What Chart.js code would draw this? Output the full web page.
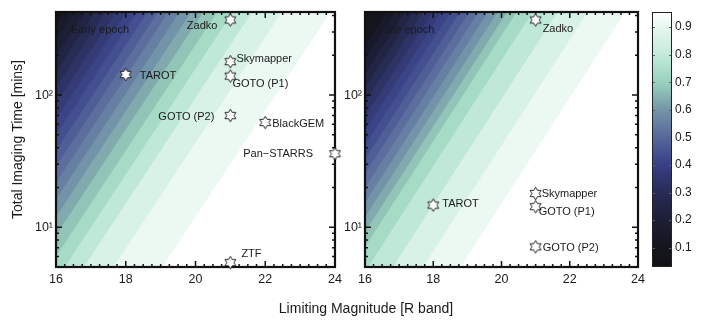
<!DOCTYPE html>
<html lang="en">
<head>
<meta charset="UTF-8">
<title>Imaging time vs limiting magnitude</title>
<script src="https://cdn.jsdelivr.net/npm/chart.js"></script>
<style>
  body { margin: 0; background: #fff; width: 714px; height: 326px; position: relative; overflow: hidden;
         font-family: "Liberation Sans", Arial, sans-serif; }
  canvas { position: absolute; top: 0; }
  #xTitle { position: absolute; left: 0; width: 732px; top: 300px; text-align: center; font-size: 14px; color: #1a1a1a; }
</style>
</head>
<body>
<canvas id="earlyChart" width="350" height="326" style="left:0"></canvas>
<canvas id="lateChart" width="312" height="326" style="left:338px"></canvas>
<canvas id="colorBar" width="69" height="326" style="left:645px"></canvas>
<div id="xTitle">Limiting Magnitude [R band]</div>
<script>
// contour levels and where each level line crosses the 5 min line (mag), lines rise 2.5 mag per decade
const levels = [0.05, 0.10, 0.15, 0.20, 0.25, 0.30, 0.35, 0.40, 0.45, 0.50,
                0.55, 0.60, 0.65, 0.70, 0.75, 0.80, 0.85, 0.90, 0.95];
const earlyLevelMag = [11.4, 11.7, 12.0, 12.3, 12.6, 12.9, 13.2, 13.5, 13.8, 14.1,
                       14.4, 14.72, 15.05, 15.4, 15.8, 16.25, 16.8, 17.65, 19.05];
const lateLevelMag = [11.8, 12.07, 12.34, 12.61, 12.88, 13.15, 13.42, 13.69, 13.96, 14.23,
                      14.5, 14.78, 15.06, 15.34, 15.62, 16.09, 16.82, 17.7, 18.8];
const baseTime = 5;
const magPerDecade = 2.5;

// telescopes
const earlyNames = ['Zadko', 'Skymapper', 'GOTO (P1)', 'TAROT', 'GOTO (P2)', 'BlackGEM', 'Pan\u2212STARRS', 'ZTF'];
const earlyMag = [21, 21, 21, 18, 21, 22, 24, 21];
const earlyTime = [370, 179, 139, 143, 70, 62, 36, 5.4];

const lateNames = ['Zadko', 'Skymapper', 'GOTO (P1)', 'TAROT', 'GOTO (P2)'];
const lateMag = [21, 21, 21, 18, 21];
const lateTime = [370, 18, 14.3, 14.7, 7.1];

// ticks
const xTicks = [16, 18, 20, 22, 24];
const yTicks = [10, 100];
const cbTicks = [0.1, 0.2, 0.3, 0.4, 0.5, 0.6, 0.7, 0.8, 0.9];

// colours: one per band (below first level ... above last level)
const bandColors = ['#15151d', '#18192a', '#1c1e36', '#212543', '#272c54', '#2d3364', '#343b76', '#3b4486',
                    '#444f8f', '#4f5e97', '#5b6e9d', '#677fa2', '#7393a8', '#82aaae', '#93c4b8', '#a6dcc6',
                    '#c0e8d8', '#d8f2e6', '#ecf8f2', '#ffffff'];
const cmapVals = [0.03, 0.1, 0.2, 0.3, 0.4, 0.5, 0.6, 0.7, 0.8, 0.9, 0.955];
const cmapColors = ['#111114', '#15151e', '#1c1e34', '#272b56', '#383f86', '#56689b', '#7495a8', '#98d2be', '#c2eada', '#e8f7f0', '#ffffff'];

const family = '"Liberation Sans", Arial, sans-serif';
const textColor = '#1a1a1a';
Chart.defaults.font.family = family;
Chart.defaults.color = textColor;

// label offsets from star [dx, dy, align]
const earlyLabelPos = {
    'Zadko': [-13, 6, 'right'], 'Skymapper': [6, -3, 'left'], 'GOTO (P1)': [2, 8, 'left'],
    'TAROT': [14, 1, 'left'], 'GOTO (P2)': [-16, 1, 'right'], 'BlackGEM': [7, 1, 'left'],
    'Pan\u2212STARRS': [-22, 0, 'right'], 'ZTF': [11, -9, 'left']
};
const lateLabelPos = {
    'Zadko': [7, 9, 'left'], 'Skymapper': [6, 0, 'left'], 'GOTO (P1)': [3, 5, 'left'],
    'TAROT': [9, -1, 'left'], 'GOTO (P2)': [7, 1, 'left']
};

function makeStar(R) {
    const c = document.createElement('canvas');
    const s = Math.ceil(2 * R + 4);
    c.width = s; c.height = s;
    const g = c.getContext('2d');
    const r = R / Math.sqrt(3);
    g.beginPath();
    for (let k = 0; k < 12; k++) {
        const ang = -Math.PI / 2 + k * Math.PI / 6;
        const rad = k % 2 === 0 ? R : r;
        const px = s / 2 + rad * Math.cos(ang), py = s / 2 + rad * Math.sin(ang);
        if (k === 0) g.moveTo(px, py); else g.lineTo(px, py);
    }
    g.closePath();
    g.fillStyle = '#fff';
    g.fill();
    g.lineWidth = 0.9;
    g.strokeStyle = '#111';
    g.stroke();
    return c;
}
const starImg = makeStar(6.3);

// each region is "value >= level", lighter regions painted over darker ones
function contourSets(levelMag) {
    const yLo = 2, yHi = 2000, xFar = 40;
    const regions = [null].concat(levelMag);
    return regions.map((m5, k) => {
        let pts;
        if (m5 === null) {
            pts = [{x: xFar, y: yLo}, {x: 0, y: yLo}, {x: 0, y: yHi}, {x: xFar, y: yHi}];
        } else {
            const mLo = m5 + magPerDecade * Math.log10(yLo / baseTime);
            const mHi = m5 + magPerDecade * Math.log10(yHi / baseTime);
            pts = [{x: xFar, y: yLo}, {x: mLo, y: yLo}, {x: mHi, y: yHi}, {x: xFar, y: yHi}];
        }
        return {
            data: pts, backgroundColor: bandColors[k], borderColor: 'transparent', borderWidth: 0,
            pointRadius: 0, fill: 'shape', tension: 0, order: 100 - k
        };
    });
}

function frameTicks(ctx, a, x, y) {
    const xMinor = [];
    for (let v = 16; v <= 24.001; v += 0.25) xMinor.push(v);
    const yMinor = [5, 6, 7, 8, 9, 20, 30, 40, 50, 60, 70, 80, 90, 200, 300, 400];
    ctx.strokeStyle = '#111';
    ctx.lineWidth = 1.5;
    ctx.beginPath();
    const xt = (v, len) => {
        const px = x.getPixelForValue(v);
        ctx.moveTo(px, a.bottom); ctx.lineTo(px, a.bottom - len);
        ctx.moveTo(px, a.top); ctx.lineTo(px, a.top + len);
    };
    const yt = (v, len) => {
        const py = y.getPixelForValue(v);
        ctx.moveTo(a.left, py); ctx.lineTo(a.left + len, py);
        ctx.moveTo(a.right, py); ctx.lineTo(a.right - len, py);
    };
    xMinor.forEach(v => xt(v, 3));
    xTicks.forEach(v => xt(v, 6));
    yMinor.forEach(v => yt(v, 3));
    yTicks.forEach(v => yt(v, 6));
    ctx.stroke();
    ctx.lineWidth = 2.2;
    ctx.strokeRect(a.left, a.top, a.width, a.height);
}

function panelPlugins(names, epoch, offsets) {
    return [{
        id: 'frame',
        beforeDatasetsDraw(chart) {
            const {ctx, chartArea: a, scales} = chart;
            ctx.save();
            frameTicks(ctx, a, scales.x, scales.y);
            ctx.restore();
        },
        afterDatasetsDraw(chart) {
            const ctx = chart.ctx, a = chart.chartArea;
            const meta = chart.getDatasetMeta(chart.data.datasets.length - 1);
            ctx.save();
            ctx.font = '11px ' + family;
            ctx.fillStyle = textColor;
            ctx.textBaseline = 'middle';
            meta.data.forEach((pt, i) => {
                const [dx, dy, align] = offsets[names[i]];
                ctx.textAlign = align;
                ctx.fillText(names[i], pt.x + dx, pt.y + dy);
            });
            ctx.textAlign = 'left';
            ctx.fillText(epoch, a.left + 15, a.top + 18);
            ctx.restore();
        }
    }];
}

function panel(canvasId, levelMag, names, mags, times, epoch, offsets, showTitle, yWidth, padRight) {
    const stars = {
        data: names.map((n, i) => ({x: mags[i], y: times[i]})),
        showLine: false, fill: false, pointStyle: starImg, pointRadius: 6, order: 0, clip: false
    };
    return new Chart(document.getElementById(canvasId), {
        type: 'line',
        data: {datasets: contourSets(levelMag).concat([stars])},
        options: {
            responsive: false, animation: false, events: [],
            layout: {padding: {top: 12, right: padRight, left: 0, bottom: 0}},
            plugins: {legend: {display: false}, tooltip: {enabled: false}, filler: {drawTime: 'beforeDatasetsDraw'}},
            scales: {
                x: {
                    type: 'linear', min: 16, max: 24,
                    grid: {display: false, drawTicks: false}, border: {display: false},
                    afterBuildTicks: s => { s.ticks = xTicks.map(v => ({value: v})); },
                    ticks: {font: {size: 12.5}, color: textColor, padding: 5, maxRotation: 0, autoSkip: false},
                    afterFit: s => { s.height = 59; }
                },
                y: {
                    type: 'logarithmic', min: 5, max: 425,
                    grid: {display: false, drawTicks: false}, border: {display: false},
                    afterBuildTicks: s => { s.ticks = yTicks.map(v => ({value: v})); },
                    ticks: {font: {size: 12.5}, color: textColor, padding: 3, autoSkip: false,
                            callback: v => v === 10 ? '10\u00b9' : '10\u00b2'},
                    title: {display: showTitle, text: 'Total Imaging Time [mins]', font: {size: 14},
                            color: textColor, padding: {top: 10, bottom: 0}},
                    afterFit: s => { s.width = yWidth; }
                }
            }
        },
        plugins: panelPlugins(names, epoch, offsets)
    });
}

panel('earlyChart', earlyLevelMag, earlyNames, earlyMag, earlyTime, 'Early epoch', earlyLabelPos, true, 56, 15);
panel('lateChart', lateLevelMag, lateNames, lateMag, lateTime, 'Late epoch', lateLabelPos, false, 27, 12);

// colour bar
function cbGradient(chart) {
    const y = chart.scales.y;
    if (!chart.chartArea || !y) return '#7495a8';
    const y0 = y.getPixelForValue(cmapVals[0]);
    const y1 = y.getPixelForValue(cmapVals[cmapVals.length - 1]);
    const g = chart.ctx.createLinearGradient(0, y0, 0, y1);
    const span = cmapVals[cmapVals.length - 1] - cmapVals[0];
    cmapVals.forEach((v, i) => g.addColorStop((v - cmapVals[0]) / span, cmapColors[i]));
    return g;
}

new Chart(document.getElementById('colorBar'), {
    type: 'bar',
    data: {labels: [''], datasets: [{
        data: [[cmapVals[0], cmapVals[cmapVals.length - 1]]],
        backgroundColor: ctx => cbGradient(ctx.chart),
        borderWidth: 0, barPercentage: 1, categoryPercentage: 1
    }]},
    options: {
        responsive: false, animation: false, events: [],
        layout: {padding: {left: 7, top: 12, bottom: 59, right: 0}},
        plugins: {legend: {display: false}, tooltip: {enabled: false}},
        scales: {
            x: {display: false},
            y: {
                position: 'right', min: 0.03, max: 0.955,
                grid: {display: false, drawTicks: false}, border: {display: false},
                afterBuildTicks: s => { s.ticks = cbTicks.map(v => ({value: v})); },
                ticks: {font: {size: 12}, color: textColor, padding: 3, autoSkip: false, callback: v => v.toFixed(1)},
                afterFit: s => { s.width = 42; }
            }
        }
    },
    plugins: [{
        id: 'cbFrame',
        afterDatasetsDraw(chart) {
            const {ctx, chartArea: a, scales: {y}} = chart;
            ctx.save();
            ctx.strokeStyle = '#666';
            ctx.lineWidth = 1;
            ctx.beginPath();
            cbTicks.forEach(v => {
                const py = Math.round(y.getPixelForValue(v)) + 0.5;
                ctx.moveTo(a.left, py); ctx.lineTo(a.left + 3, py);
                ctx.moveTo(a.right, py); ctx.lineTo(a.right - 3, py);
            });
            ctx.stroke();
            ctx.strokeStyle = '#222';
            ctx.strokeRect(a.left + 0.5, a.top + 0.5, a.width - 1, a.height - 1);
            ctx.restore();
        }
    }]
});
</script>
</body>
</html>
